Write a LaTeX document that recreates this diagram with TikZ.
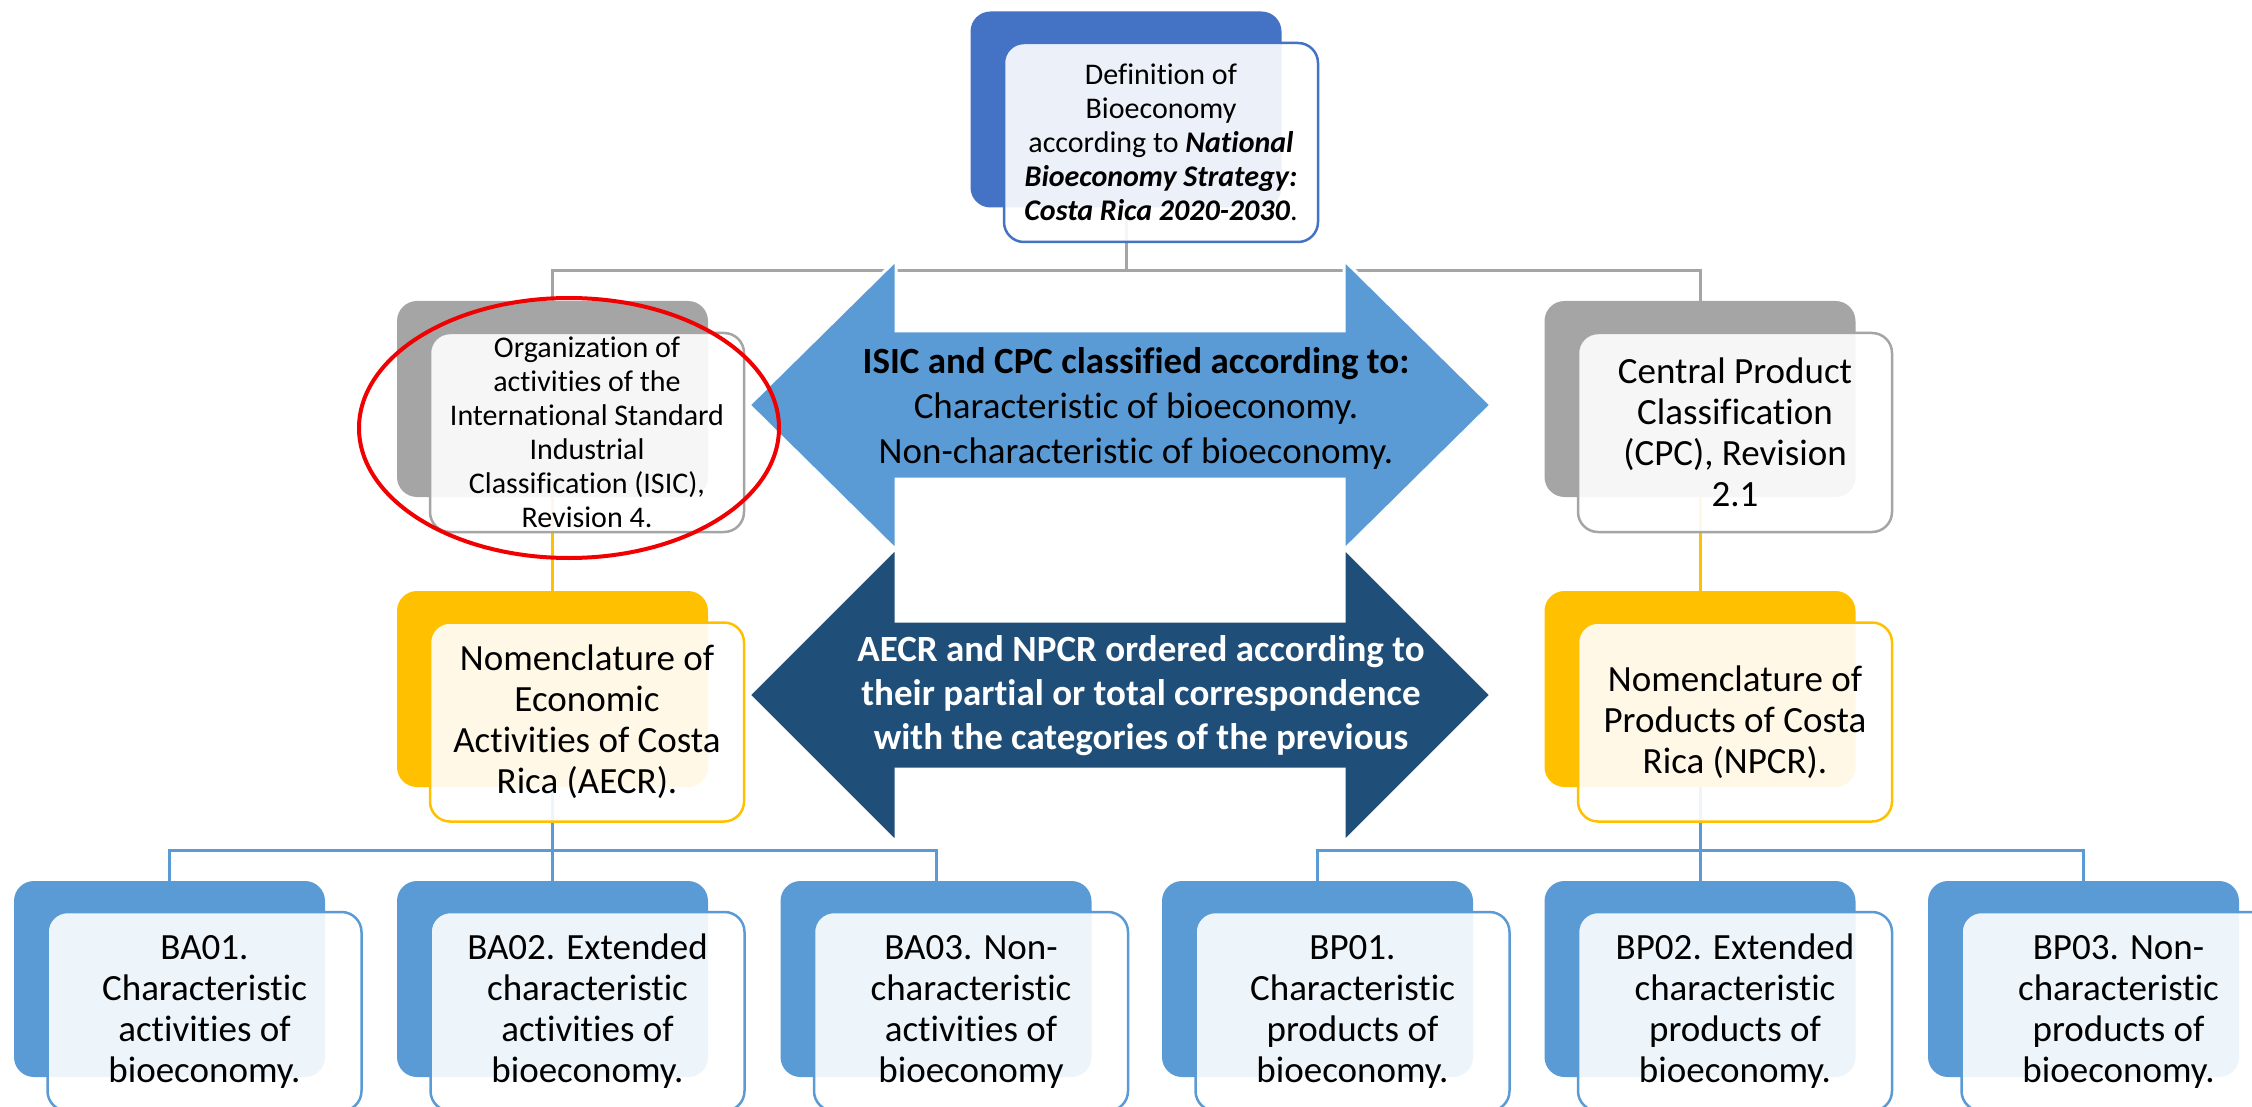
\documentclass[tikz,border=0pt]{standalone}
\usepackage{fontspec}
\setmainfont[Ligatures=NoCommon]{Carlito}
\usetikzlibrary{shapes.geometric}
\definecolor{cTop}{HTML}{4472C4}
\definecolor{cGray}{HTML}{A5A5A5}
\definecolor{cYel}{HTML}{FFC000}
\definecolor{cBlue}{HTML}{5B9BD5}
\definecolor{cDark}{HTML}{1F4E79}
\definecolor{cRed}{HTML}{F00000}
\begin{document}
\begin{tikzpicture}[x=1pt,y=-1pt,
  back/.style={rectangle, rounded corners=20pt, minimum width=311pt, minimum height=196pt, inner sep=0pt, fill=#1, draw=none},
  front/.style={rectangle, rounded corners=20pt, minimum width=314pt, minimum height=199pt, inner sep=0pt, fill=white, fill opacity=0.9, text opacity=1, draw=#1, line width=2.5pt, align=center, text=black},
  big/.style={font=\fontsize{37}{41}\selectfont},
  small/.style={font=\fontsize{30}{34}\selectfont},
  conn/.style={draw=#1, line width=3pt},
  dblarrow/.style={fill=#1, draw=white, line width=3pt, line join=miter},
  arrtext/.style={align=center, inner sep=0pt, font=\fontsize{37}{45}\selectfont}
]
\useasboundingbox (0,0) rectangle (2252,1107);

% back boxes
\node[back=cTop]  (topb)  at (1126,109.5) {};
\node[back=cGray] (isicb) at (552.5,399) {};
\node[back=cGray] (cpcb)  at (1700,399) {};
\node[back=cYel]  (aecrb) at (552.5,689) {};
\node[back=cYel]  (npcrb) at (1700,689) {};
\node[back=cBlue] (ba1b) at (169.5,979) {};
\node[back=cBlue] (ba2b) at (552.5,979) {};
\node[back=cBlue] (ba3b) at (936,979) {};
\node[back=cBlue] (bp1b) at (1317.5,979) {};
\node[back=cBlue] (bp2b) at (1700,979) {};
\node[back=cBlue] (bp3b) at (2083.5,979) {};

% connectors
\coordinate (j0) at (1126,271);
\coordinate (j1) at (552.5,850);
\coordinate (j2) at (1700,850);
\draw[conn=cGray] (topb.south) -- (j0);
\draw[conn=cGray] (isicb.north) |- (j0) -| (cpcb.north);
\draw[conn=cYel] (isicb.south) -- (aecrb.north);
\draw[conn=cYel] (cpcb.south) -- (npcrb.north);
\draw[conn=cBlue] (aecrb.south) -- (j1);
\draw[conn=cBlue] (ba1b.north) |- (j1) -| (ba3b.north);
\draw[conn=cBlue] (j1) -- (ba2b.north);
\draw[conn=cBlue] (npcrb.south) -- (j2);
\draw[conn=cBlue] (bp1b.north) |- (j2) -| (bp3b.north);
\draw[conn=cBlue] (j2) -- (bp2b.north);

% front boxes
\node[front=cTop, small] (topf) at (1161,142.5) {Definition of\\Bioeconomy\\according to \textbf{\textit{National}}\\\textbf{\textit{Bioeconomy Strategy:}}\\\textbf{\textit{Costa Rica 2020-2030}}.};
\node[front=cGray, small] (isicf) at (587,432.5) {Organization of\\activities of the\\International Standard\\Industrial\\Classification (ISIC),\\Revision 4.};
\node[front=cGray, big] (cpcf) at (1735,432.5) {Central Product\\Classification\\(CPC), Revision\\2.1};
\node[front=cYel, big] (aecrf) at (587,722) {Nomenclature of\\Economic\\Activities of Costa\\Rica (AECR).};
\node[front=cYel, big] (npcrf) at (1735,722) {Nomenclature of\\Products of Costa\\Rica (NPCR).};
\node[front=cBlue, big] (ba1f) at (204.5,1011.5) {BA01.\\Characteristic\\activities of\\bioeconomy.};
\node[front=cBlue, big] (ba2f) at (587.5,1011.5) {BA02. Extended\\characteristic\\activities of\\bioeconomy.};
\node[front=cBlue, big] (ba3f) at (971,1011.5) {BA03. Non-\\characteristic\\activities of\\bioeconomy};
\node[front=cBlue, big] (bp1f) at (1352.5,1011.5) {BP01.\\Characteristic\\products of\\bioeconomy.};
\node[front=cBlue, big] (bp2f) at (1735,1011.5) {BP02. Extended\\characteristic\\products of\\bioeconomy.};
\node[front=cBlue, big] (bp3f) at (2118.5,1011.5) {BP03. Non-\\characteristic\\products of\\bioeconomy.};

% double arrows
\filldraw[dblarrow=cBlue] (749,405) -- (896,260) -- (896,331) -- (1344,331) -- (1344,260) -- (1491,405) -- (1344,550) -- (1344,479) -- (896,479) -- (896,550) -- cycle;
\filldraw[dblarrow=cDark] (749,695) -- (896,548) -- (896,621) -- (1344,621) -- (1344,548) -- (1491,695) -- (1344,842) -- (1344,769) -- (896,769) -- (896,842) -- cycle;
\node[arrtext] (up) at (1136,408) {\textbf{ISIC and CPC classified according to:}\\Characteristic of bioeconomy.\\Non-characteristic of bioeconomy.};
\node[arrtext, text=white, font=\fontsize{37}{44}\selectfont\bfseries] (low) at (1141,696) {AECR and NPCR ordered according to\\their partial or total correspondence\\with the categories of the previous};

% red mark
\node[ellipse, draw=cRed, line width=4pt, minimum width=420pt, minimum height=260pt, inner sep=0pt] (mark) at (569,428) {};
\end{tikzpicture}
\end{document}
